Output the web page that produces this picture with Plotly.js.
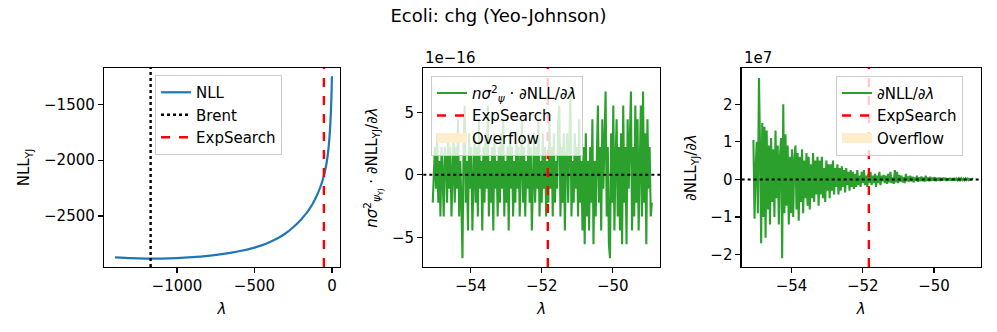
<!DOCTYPE html>
<html>
<head>
<meta charset="utf-8">
<script src="https://cdn.plot.ly/plotly-3.0.1.min.js"></script>
<style>
  html, body { margin: 0; padding: 0; background: #fff; }
  #myPlot { width: 997px; height: 332px; }
</style>
</head>
<body>
<div id="myPlot"></div>
<script>
// panel 1: NLL curve over lambda
const lam_nll = [-1400, -1300, -1200, -1100, -1000, -900, -800, -700, -600, -500, -450, -400, -350, -300, -250, -200, -175, -150, -125, -100, -85, -70, -55, -45, -35, -28, -22, -16, -11, -7, -4, -2, 0];
const nll_vals = [-2869, -2876, -2880, -2880, -2876, -2868, -2856, -2839, -2815, -2782, -2760, -2732, -2698, -2656, -2600, -2532, -2492, -2446, -2392, -2325, -2277, -2222, -2155, -2100, -2030, -1965, -1895, -1800, -1695, -1580, -1470, -1380, -1250];
const brent_lam = -1170;
const expsearch_lam = -51.83;

// panels 2 and 3 sampled on the same lambda window
const lam_start = -55.07;
const lam_end = -48.90;

// n*sigma^2 * dNLL/dlambda, in units of 1e-16
const scaled_grad = [
  -2.22, 1.11, 2.22, -1.11, 3.33, -2.22, 1.11, -3.33, 2.22, 0,
  -3.33, 2.22, 1.11, -2.22, 3.33, -1.11, 2.22, -3.33, 1.11, 3.33,
  -2.22, 2.22, -1.11, 4.44, -3.33, 1.11, -2.22, -6.66, 2.22, 5.55,
  -2.22, 1.11, -4.44, 3.33, -1.11, 2.22, -4.44, 1.11, 3.33, -2.22,
  2.22, -3.33, 4.44, -1.11, 1.11, -4.44, 2.22, -2.22, 3.33, -1.11,
  5.55, -3.33, 1.11, -2.22, 2.22, -4.44, 3.33, -1.11, 1.11, -3.33,
  2.22, -2.22, 3.33, -1.11, 4.44, -3.33, 1.11, -2.22, 2.22, -4.44,
  3.33, -1.11, 2.22, -3.33, 1.11, -2.22, 3.33, -1.11, 2.22, -3.33,
  1.11, 4.44, -2.22, 2.22, -3.33, 1.11, -1.11, 3.33, -2.22, 2.22,
  -4.44, 1.11, 3.33, -2.22, 2.22, -1.11, 4.44, -3.33, 1.11, -2.22,
  3.33, -1.11, 2.22, -3.33, 1.11, -2.22, 4.44, -1.11, 2.22, -3.33,
  3.33, -2.22, 1.11, -1.11, 4.44, 5.55, -3.33, 2.22, -2.22, 3.33,
  -4.44, 1.11, 3.33, -2.22, 2.22, 6.66, -3.33, 1.11, -2.22, 3.33,
  -1.11, 2.22, -3.33, 4.44, -2.22, 1.11, -4.44, 2.22, -5.55, 3.33,
  -3.33, 1.11, -4.44, 2.22, -2.22, 4.44, -5.55, 1.11, -3.33, 3.33,
  5.55, -2.22, 2.22, -4.44, 4.44, -1.11, 3.33, 6.66, -3.33, 2.22,
  -5.55, -6.66, 3.33, -2.22, 5.55, -4.44, 1.11, 4.44, -3.33, 2.22,
  -4.44, 3.33, -5.55, 5.55, -2.22, 2.22, -5.55, 4.44, -1.11, 3.33,
  6.66, -4.44, 2.22, -3.33, 5.55, -2.22, 4.44, -4.44, 1.11, 5.55,
  -3.33, 6.66, -2.22, 3.33, -5.55, 4.44, -1.11, 2.22, -3.33, -2.22
];

// raw dNLL/dlambda, in units of 1e7
const raw_grad = [
  1.05, -1.05, 0.3, 1.0, -0.9, 2.7, 0.8, -1.7, 1.5, -1.0,
  1.4, -1.55, 1.3, -0.8, 0.9, -1.2, 1.1, -0.6, 0.8, -1.0,
  1.3, -0.5, 0.9, -1.2, 0.6, 1.1, -2.1, 2.0, -0.9, 1.2,
  -0.7, 0.9, -1.2, 0.6, -0.9, 0.8, -1.0, 0.5, 0.9, -0.8,
  0.7, -1.1, 0.6, -0.6, 0.8, -0.9, 0.5, -0.5, 0.7, -0.7,
  0.6, -0.8, 0.4, -0.5, 0.7, -0.6, 0.5, -0.4, 0.6, -0.7,
  0.5, -0.4, 0.6, -0.5, 0.3, -0.6, 0.5, -0.3, 0.4, -0.5,
  0.4, -0.3, 0.5, -0.4, 0.3, -0.2, 0.4, -0.4, 0.3, -0.3,
  0.35, -0.2, 0.25, -0.35, 0.3, -0.15, 0.2, -0.3, 0.25, -0.2,
  0.2, -0.25, 0.15, -0.2, 0.25, -0.15, 0.1, -0.2, 0.2, -0.1,
  0.25, -0.15, 0.1, -0.2, 0.15, -0.1, 0.2, -0.15, 0.1, -0.1,
  0.15, -0.2, 0.1, -0.1, 0.2, -0.15, 0.1, -0.05, 0.12, -0.1,
  0.1, -0.12, 0.15, -0.08, 0.2, -0.1, 0.05, -0.12, 0.25, -0.08,
  0.2, -0.1, 0.12, -0.06, 0.1, -0.08, 0.06, -0.1, 0.15, -0.05,
  0.08, -0.06, 0.1, -0.05, 0.07, -0.08, 0.05, -0.04, 0.1, -0.06,
  0.06, -0.05, 0.08, -0.04, 0.05, -0.06, 0.1, -0.04, 0.05, -0.05,
  0.07, -0.04, 0.05, -0.03, 0.06, -0.05, 0.04, -0.03, 0.05, -0.04,
  0.04, -0.03, 0.05, -0.02, 0.04, -0.04, 0.03, -0.02, 0.04, -0.03,
  0.03, -0.02, 0.04, -0.03, 0.02, -0.02, 0.03, -0.02, 0.03, -0.02,
  0.02, -0.02, 0.03, -0.01, 0.02, -0.02, 0.01, -0.01, 0.02, 0.01
];

function lam_grid(n) {
  const out = [];
  for (let i = 0; i < n; i++) out.push(lam_start + (lam_end - lam_start) * i / (n - 1));
  return out;
}

const FONT = 'DejaVu Sans, Liberation Sans, sans-serif';
const GREEN = '#2ca02c';
const OVERFLOW = '#ffedcc';

const trace_nll = {
  x: lam_nll, y: nll_vals, type: 'scatter', mode: 'lines',
  line: { color: '#1f77b4', width: 2.2, shape: 'spline', smoothing: 0.6 },
  name: 'NLL', xaxis: 'x', yaxis: 'y', legend: 'legend', legendrank: 1
};

const trace_scaled = {
  x: lam_grid(scaled_grad.length), y: scaled_grad, type: 'scatter', mode: 'lines',
  line: { color: GREEN, width: 2.1 },
  name: '<i>nσ</i><sup>2</sup><sub><i>ψ</i></sub> · ∂NLL/∂<i>λ</i>',
  xaxis: 'x2', yaxis: 'y2', legend: 'legend2', legendrank: 1
};

const trace_raw = {
  x: lam_grid(raw_grad.length), y: raw_grad, type: 'scatter', mode: 'lines',
  line: { color: GREEN, width: 2.1 },
  name: '∂NLL/∂<i>λ</i>', xaxis: 'x3', yaxis: 'y3', legend: 'legend3', legendrank: 1
};

// legend-only entries for the overflow regions (nothing overflows in this window)
const overflow2 = {
  x: [null], y: [null], type: 'scatter', mode: 'lines',
  line: { color: OVERFLOW, width: 12 }, name: 'Overflow',
  xaxis: 'x2', yaxis: 'y2', legend: 'legend2', legendrank: 3
};
const overflow3 = Object.assign({}, overflow2, { xaxis: 'x3', yaxis: 'y3', legend: 'legend3' });

function vline(xref, x, color, dash, name, legend, rank) {
  return {
    type: 'line', xref: xref, yref: xref.replace('x', 'y') + ' domain',
    x0: x, x1: x, y0: 0, y1: 1,
    line: { color: color, width: 2.4, dash: dash },
    showlegend: true, name: name, legend: legend, legendrank: rank
  };
}
function zero_line(n) {
  return {
    type: 'line', xref: 'x' + n + ' domain', yref: 'y' + n,
    x0: 0, x1: 1, y0: 0, y1: 0,
    line: { color: 'black', width: 2, dash: 'dot' }, layer: 'above'
  };
}

const shapes = [
  vline('x', brent_lam, 'black', 'dot', 'Brent', 'legend', 2),
  vline('x', expsearch_lam, 'red', 'dash', 'ExpSearch', 'legend', 3),
  zero_line(2), vline('x2', expsearch_lam, 'red', 'dash', 'ExpSearch', 'legend2', 2),
  zero_line(3), vline('x3', expsearch_lam, 'red', 'dash', 'ExpSearch', 'legend3', 2)
];

function axis_base(extra) {
  return Object.assign({
    showline: true, mirror: true, linecolor: 'black', linewidth: 1.2,
    ticks: 'outside', ticklen: 5, tickwidth: 1.2, tickcolor: 'black',
    showgrid: false, zeroline: false, automargin: false,
    tickfont: { family: FONT, size: 15, color: 'black' }
  }, extra);
}

const YDOM = [0.196, 0.795];
const lam_title = { text: '<i>λ</i>', font: { family: FONT, size: 15, color: 'black' }, standoff: 9 };

function legend_box(x, y) {
  return {
    x: x, y: y, xanchor: 'left', yanchor: 'top',
    bgcolor: 'rgba(255,255,255,0.8)', bordercolor: '#cccccc', borderwidth: 1,
    font: { family: FONT, size: 15, color: 'black' },
    tracegroupgap: 0, itemwidth: 30
  };
}

const layout = {
  width: 997, height: 332,
  margin: { l: 0, r: 0, t: 0, b: 0 },
  paper_bgcolor: 'white', plot_bgcolor: 'white',
  font: { family: FONT, size: 15, color: 'black' },
  title: { text: 'Ecoli: chg (Yeo-Johnson)', x: 0.5, xanchor: 'center', y: 0.952, yanchor: 'middle',
           font: { family: FONT, size: 18, color: 'black' } },
  xaxis: axis_base({ domain: [0.1043, 0.3410], range: [-1471, 52], anchor: 'y',
                     tickvals: [-1000, -500, 0], ticktext: ['−1000', '−500', '0'], title: lam_title }),
  yaxis: axis_base({ domain: YDOM, range: [-2955, -1176], anchor: 'x',
                     tickvals: [-2500, -2000, -1500], ticktext: ['−2500', '−2000', '−1500'],
                     title: { text: 'NLL<sub>YJ</sub>', font: { family: FONT, size: 15 }, standoff: 10 } }),
  xaxis2: axis_base({ domain: [0.4246, 0.6620], range: [-55.335, -48.67], anchor: 'y2',
                      tickvals: [-54, -52, -50], ticktext: ['−54', '−52', '−50'], title: lam_title }),
  yaxis2: axis_base({ domain: YDOM, range: [-7.36, 8.54], anchor: 'x2',
                      tickvals: [-5, 0, 5], ticktext: ['−5', '0', '5'],
                      title: { text: '<i>nσ</i><sup>2</sup><sub><i>ψ</i><sub>YJ</sub></sub> · ∂NLL<sub>YJ</sub>/∂<i>λ</i>',
                               font: { family: FONT, size: 15 }, standoff: 10 } }),
  xaxis3: axis_base({ domain: [0.7439, 0.9837], range: [-55.4, -48.69], anchor: 'y3',
                      tickvals: [-54, -52, -50], ticktext: ['−54', '−52', '−50'], title: lam_title }),
  yaxis3: axis_base({ domain: YDOM, range: [-2.33, 2.965], anchor: 'x3',
                      tickvals: [-2, -1, 0, 1, 2], ticktext: ['−2', '−1', '0', '1', '2'],
                      title: { text: '∂NLL<sub>YJ</sub>/∂<i>λ</i>', font: { family: FONT, size: 15 }, standoff: 10 } }),
  legend: legend_box(0.1555, 0.774),
  legend2: legend_box(0.4323, 0.772),
  legend3: legend_box(0.8385, 0.772),
  shapes: shapes,
  annotations: [
    { text: '1e−16', xref: 'paper', yref: 'paper', x: 0.4246, y: 1 - 58 / 332, xanchor: 'left', yanchor: 'middle',
      showarrow: false, font: { family: FONT, size: 15 } },
    { text: '1e7', xref: 'paper', yref: 'paper', x: 0.7439, y: 1 - 58 / 332, xanchor: 'left', yanchor: 'middle',
      showarrow: false, font: { family: FONT, size: 15 } }
  ],
  showlegend: true
};

Plotly.newPlot('myPlot', [trace_nll, trace_scaled, overflow2, trace_raw, overflow3], layout, { staticPlot: true });
</script>
</body>
</html>
